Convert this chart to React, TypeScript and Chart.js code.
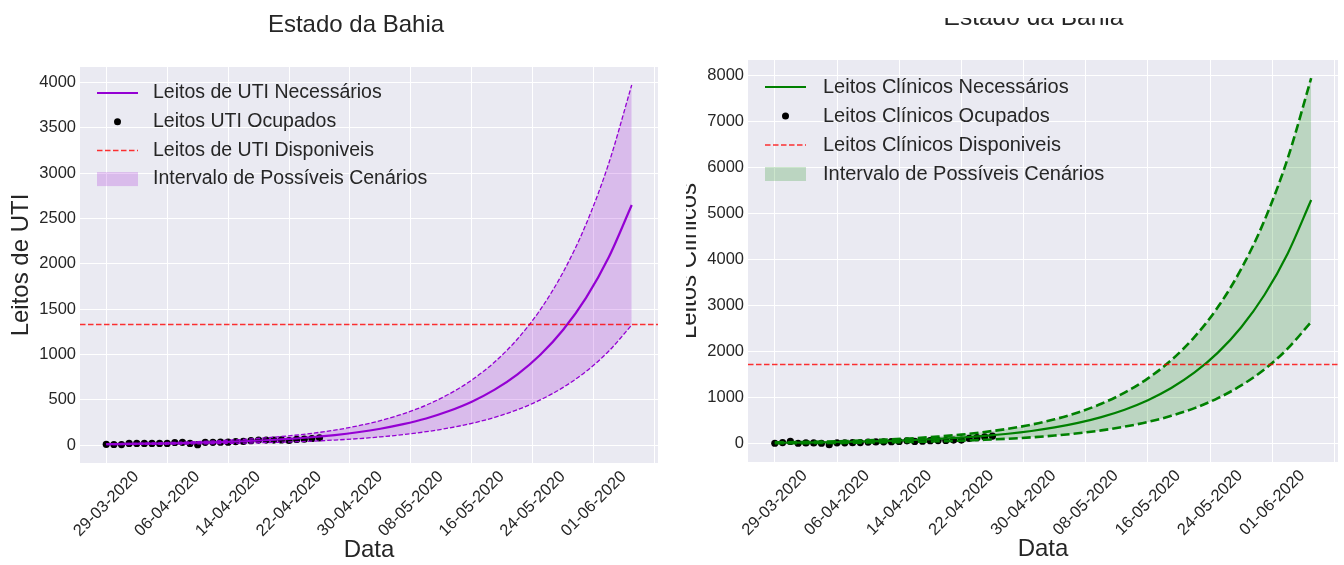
import React, { useEffect, useRef } from 'react';
import { Chart, registerables } from 'chart.js';

Chart.register(...registerables);

const FONT = "'Liberation Sans', Arial, Helvetica, sans-serif";
const TEXT = '#262626';
const FACE = '#EAEAF2';
const RED = 'rgba(255,0,0,0.8)';

const TITLE = 'Estado da Bahia';
const X_LABEL = 'Data';
const X_MIN = -3.45;
const X_MAX = 72.45;
const X_TICK_DAYS = [0, 8, 16, 24, 32, 40, 48, 56, 64, 72];
const X_TICK_LABELS = [
  '29-03-2020', '06-04-2020', '14-04-2020', '22-04-2020', '30-04-2020',
  '08-05-2020', '16-05-2020', '24-05-2020', '01-06-2020', '',
];

const OBS_DAYS = [0, 1, 2, 3, 4, 5, 6, 7, 8, 9, 10, 11, 12, 13, 14, 15, 16, 17, 18, 19, 20, 21, 22, 23, 24, 25, 26, 27, 28];
const MODEL_DAYS = [0, 3, 6, 9, 12, 15, 18, 21, 24, 27, 30, 33, 36, 39, 42, 45, 48, 51, 54, 57, 60, 63, 66, 69];

// ---- UTI (ICU) panel ----
const ICU_Y_LABEL = 'Leitos de UTI';
const ICU_OCCUPIED = [8, 6, 5, 18, 18, 18, 18, 18, 18, 28, 30, 18, 4, 30, 30, 32, 32, 38, 40, 48, 55, 55, 55, 57, 50, 62, 65, 72, 80];
const ICU_NEEDED = [10, 12, 16, 20, 26, 33, 42, 53, 68, 86, 110, 141, 180, 230, 293, 375, 478, 611, 780, 996, 1272, 1624, 2074, 2648];
const ICU_LOWER = [5, 6, 8, 10, 13, 16, 21, 27, 34, 43, 55, 70, 90, 115, 147, 188, 239, 305, 390, 498, 636, 812, 1037, 1324];
const ICU_UPPER = [14, 18, 23, 30, 38, 49, 62, 80, 102, 129, 165, 211, 270, 345, 440, 562, 717, 916, 1170, 1494, 1908, 2436, 3111, 3972];
const ICU_AVAILABLE = 1330;
const ICU_Y_MIN = -198;
const ICU_Y_MAX = 4170;
const ICU_Y_TICKS = [0, 500, 1000, 1500, 2000, 2500, 3000, 3500, 4000];
const ICU_LEGEND = [
  'Leitos de UTI Necessários',
  'Leitos UTI Ocupados',
  'Leitos de UTI Disponiveis',
  'Intervalo de Possíveis Cenários',
];

// ---- Clinical panel ----
const CLIN_Y_LABEL = 'Leitos Clínicos';
const CLIN_OCCUPIED = [10, 25, 50, 10, 18, 18, 10, -20, 20, 20, 22, 25, 35, 38, 40, 45, 48, 62, 50, 55, 65, 68, 70, 80, 80, 115, 130, 150, 165];
const CLIN_NEEDED = [19, 24, 30, 39, 50, 63, 81, 103, 132, 169, 216, 276, 353, 452, 578, 739, 945, 1209, 1546, 1977, 2529, 3234, 4136, 5290];
const CLIN_LOWER = [9, 12, 15, 19, 25, 32, 40, 52, 66, 85, 108, 138, 177, 226, 289, 370, 473, 605, 773, 989, 1265, 1617, 2068, 2645];
const CLIN_UPPER = [28, 36, 45, 58, 74, 95, 121, 155, 198, 254, 324, 414, 530, 678, 867, 1109, 1418, 1814, 2319, 2966, 3794, 4851, 6204, 7935];
const CLIN_AVAILABLE = 1720;
const CLIN_Y_MIN = -397;
const CLIN_Y_MAX = 8330;
const CLIN_Y_TICKS = [0, 1000, 2000, 3000, 4000, 5000, 6000, 7000, 8000];
const CLIN_LEGEND = [
  'Leitos Clínicos Necessários',
  'Leitos Clínicos Ocupados',
  'Leitos Clínicos Disponiveis',
  'Intervalo de Possíveis Cenários',
];

type PanelProps = {
  yLabel: string;
  occupied: number[];
  needed: number[];
  lower: number[];
  upper: number[];
  available: number;
  yMin: number;
  yMax: number;
  yTicks: number[];
  legend: string[];
  main: string;
  fillColor: string;
  mainWidth: number;
  dashWidth: number;
  dash: number[];
  w: number;
  h: number;
  padTop: number;
  padRight: number;
  xAxisH: number;
  titleX: number;
  titleY: number;
  titleSize: number;
  legX0: number;
  legTextX: number;
  legY0: number;
  legDy: number;
  legFont: number;
};

const pts = (xs: number[], ys: number[]) => xs.map((x, i) => ({ x, y: ys[i] }));

function Panel(p: PanelProps) {
  const ref = useRef<HTMLCanvasElement | null>(null);

  useEffect(() => {
    if (!ref.current) return;

    const bgPlugin = {
      id: 'bgFace',
      beforeDraw(chart: any) {
        const { ctx, chartArea: a } = chart;
        ctx.save();
        ctx.fillStyle = FACE;
        ctx.fillRect(a.left, a.top, a.right - a.left, a.bottom - a.top);
        ctx.restore();
      },
    };

    const titlePlugin = {
      id: 'panelTitle',
      afterDraw(chart: any) {
        const ctx = chart.ctx;
        ctx.save();
        ctx.font = `${p.titleSize}px ${FONT}`;
        ctx.fillStyle = TEXT;
        ctx.textAlign = 'center';
        ctx.textBaseline = 'middle';
        ctx.fillText(TITLE, p.titleX, p.titleY);
        ctx.restore();
      },
    };

    const legendItems = [
      { ds: 0, kind: 'line' },
      { ds: 1, kind: 'point' },
      { ds: 2, kind: 'line' },
      { ds: 4, kind: 'patch' },
    ];

    const legendPlugin = {
      id: 'innerLegend',
      afterDatasetsDraw(chart: any) {
        const { ctx, chartArea: a } = chart;
        ctx.save();
        legendItems.forEach((it, i) => {
          const ds: any = chart.data.datasets[it.ds];
          const y = a.top + p.legY0 + i * p.legDy;
          const sx = a.left + p.legX0;
          if (it.kind === 'line') {
            ctx.strokeStyle = ds.borderColor;
            ctx.lineWidth = ds.borderWidth;
            ctx.setLineDash(ds.borderDash || []);
            ctx.beginPath();
            ctx.moveTo(sx, y);
            ctx.lineTo(sx + 41, y);
            ctx.stroke();
            ctx.setLineDash([]);
          } else if (it.kind === 'point') {
            ctx.fillStyle = '#000';
            ctx.beginPath();
            ctx.arc(sx + 20.5, y, 3.5, 0, Math.PI * 2);
            ctx.fill();
          } else {
            ctx.fillStyle = ds.backgroundColor;
            ctx.fillRect(sx, y - 7, 41, 14);
          }
          ctx.fillStyle = TEXT;
          ctx.font = `${p.legFont}px ${FONT}`;
          ctx.textAlign = 'left';
          ctx.textBaseline = 'middle';
          ctx.fillText(p.legend[i], a.left + p.legTextX, y);
        });
        ctx.restore();
      },
    };

    const chart = new Chart(ref.current, {
      type: 'line',
      data: {
        datasets: [
          {
            label: p.legend[0],
            data: pts(MODEL_DAYS, p.needed),
            borderColor: p.main,
            borderWidth: p.mainWidth,
            pointRadius: 0,
            fill: false,
            cubicInterpolationMode: 'monotone',
            order: 1,
          },
          {
            label: p.legend[1],
            data: pts(OBS_DAYS, p.occupied),
            showLine: false,
            pointRadius: 3.6,
            pointBackgroundColor: '#000',
            pointBorderColor: '#000',
            pointBorderWidth: 0,
            order: 4,
          },
          {
            label: p.legend[2],
            data: [
              { x: X_MIN, y: p.available },
              { x: X_MAX, y: p.available },
            ],
            borderColor: RED,
            borderWidth: 1.5,
            borderDash: [5.5, 2.5],
            pointRadius: 0,
            fill: false,
            order: 0,
          },
          {
            label: 'lower',
            data: pts(MODEL_DAYS, p.lower),
            borderColor: p.main,
            borderWidth: p.dashWidth,
            borderDash: p.dash,
            pointRadius: 0,
            fill: false,
            cubicInterpolationMode: 'monotone',
            order: 2,
          },
          {
            label: p.legend[3],
            data: pts(MODEL_DAYS, p.upper),
            borderColor: p.main,
            borderWidth: p.dashWidth,
            borderDash: p.dash,
            pointRadius: 0,
            fill: 3,
            backgroundColor: p.fillColor,
            cubicInterpolationMode: 'monotone',
            order: 2,
          },
        ] as any,
      },
      options: {
        animation: false,
        responsive: false,
        maintainAspectRatio: false,
        events: [],
        layout: { padding: { top: p.padTop, right: p.padRight, left: 0, bottom: 0 } },
        plugins: {
          legend: { display: false },
          tooltip: { enabled: false },
          title: { display: false },
          filler: { drawTime: 'beforeDatasetsDraw' },
        } as any,
        scales: {
          x: {
            type: 'linear',
            min: X_MIN,
            max: X_MAX,
            afterBuildTicks: (s: any) => {
              s.ticks = X_TICK_DAYS.map((v) => ({ value: v }));
            },
            afterFit: (s: any) => {
              s.height = p.xAxisH;
            },
            grid: { color: '#ffffff', lineWidth: 1, drawTicks: false },
            border: { display: false },
            ticks: {
              autoSkip: false,
              minRotation: 45,
              maxRotation: 45,
              labelOffset: 30,
              padding: 4,
              color: TEXT,
              font: { family: FONT, size: 16.5 },
              callback: (_v: any, i: number) => X_TICK_LABELS[i] ?? '',
            },
            title: {
              display: true,
              text: X_LABEL,
              color: TEXT,
              font: { family: FONT, size: 24 },
              padding: { top: 0, bottom: 0 },
            },
          },
          y: {
            type: 'linear',
            min: p.yMin,
            max: p.yMax,
            afterBuildTicks: (s: any) => {
              s.ticks = p.yTicks.map((v) => ({ value: v }));
            },
            afterFit: (s: any) => {
              s.width = 80;
            },
            grid: { color: '#ffffff', lineWidth: 1, drawTicks: false },
            border: { display: false },
            ticks: {
              padding: 4,
              color: TEXT,
              font: { family: FONT, size: 16.5 },
              callback: (v: any) => String(v),
            },
            title: {
              display: true,
              text: p.yLabel,
              color: TEXT,
              font: { family: FONT, size: 24 },
              padding: { top: 6.6, bottom: 0 },
            },
          },
        } as any,
      },
      plugins: [bgPlugin, legendPlugin, titlePlugin],
    });

    return () => chart.destroy();
  }, []);

  return (
    <canvas
      ref={ref}
      width={p.w}
      height={p.h}
      style={{ width: p.w, height: p.h, display: 'block' }}
    />
  );
}

export default function App() {
  return (
    <div
      style={{
        position: 'fixed',
        left: 0,
        top: 0,
        width: 1344,
        height: 565,
        background: '#ffffff',
        overflow: 'hidden',
      }}
    >
      <div style={{ position: 'absolute', left: 0, top: 0, width: 680, height: 565 }}>
        <Panel
          yLabel={ICU_Y_LABEL}
          occupied={ICU_OCCUPIED}
          needed={ICU_NEEDED}
          lower={ICU_LOWER}
          upper={ICU_UPPER}
          available={ICU_AVAILABLE}
          yMin={ICU_Y_MIN}
          yMax={ICU_Y_MAX}
          yTicks={ICU_Y_TICKS}
          legend={ICU_LEGEND}
          main="#9400D3"
          fillColor="rgba(148,0,211,0.2)"
          mainWidth={2.2}
          dashWidth={1.3}
          dash={[4.5, 2]}
          w={680}
          h={565}
          padTop={67}
          padRight={22}
          xAxisH={102}
          titleX={356}
          titleY={25}
          titleSize={24}
          legX0={17}
          legTextX={73}
          legY0={26}
          legDy={28.7}
          legFont={19.5}
        />
      </div>
      <div
        style={{
          position: 'absolute',
          left: 686,
          top: 18,
          width: 658,
          height: 547,
          overflow: 'hidden',
        }}
      >
        <div style={{ position: 'absolute', left: -18, top: -25 }}>
          <Panel
            yLabel={CLIN_Y_LABEL}
            occupied={CLIN_OCCUPIED}
            needed={CLIN_NEEDED}
            lower={CLIN_LOWER}
            upper={CLIN_UPPER}
            available={CLIN_AVAILABLE}
            yMin={CLIN_Y_MIN}
            yMax={CLIN_Y_MAX}
            yTicks={CLIN_Y_TICKS}
            legend={CLIN_LEGEND}
            main="#008000"
            fillColor="rgba(0,128,0,0.2)"
            mainWidth={2.2}
            dashWidth={2.6}
            dash={[9, 4]}
            w={692}
            h={571}
            padTop={67}
            padRight={22}
            xAxisH={102}
            titleX={365.5}
            titleY={25.5}
            titleSize={24.5}
            legX0={17}
            legTextX={75}
            legY0={27}
            legDy={29}
            legFont={20}
          />
        </div>
      </div>
    </div>
  );
}
